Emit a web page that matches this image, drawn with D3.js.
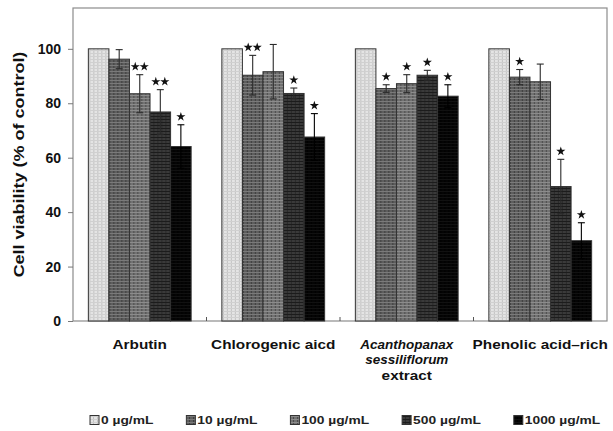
<!DOCTYPE html>
<html>
<head>
<meta charset="utf-8">
<script src="https://cdn.jsdelivr.net/npm/d3@7"></script>
<style>
  body { margin: 0; background: #fff; }
  svg { display: block; font-family: "Liberation Sans", Arial, sans-serif; }
</style>
</head>
<body>
<div id="chart"></div>
<script>
// chart values
var categories = ["Arbutin", "Chlorogenic aicd", "Acanthopanax sessiliflorum extract", "Phenolic acid\u2013rich"];
var categoryLines = [["Arbutin"], ["Chlorogenic aicd"], ["Acanthopanax", "sessiliflorum", "extract"], ["Phenolic acid\u2013rich"]];
var categoryItalic = [[false], [false], [true, true, false], [false]];
var doses = ["0 \u00b5g/mL", "10 \u00b5g/mL", "100 \u00b5g/mL", "500 \u00b5g/mL", "1000 \u00b5g/mL"];

var arbutin      = [100, 96.2, 83.5, 76.8, 64.1];
var chlorogenic  = [100, 90.3, 91.6, 83.6, 67.6];
var acanthopanax = [100, 85.4, 87.2, 90.3, 82.6];
var phenolic     = [100, 89.6, 87.9, 49.4, 29.5];

var arbutinSd      = [0, 3.5, 7.0, 8.2, 8.0];
var chlorogenicSd  = [0, 7.3, 10.0, 2.0, 8.6];
var acanthopanaxSd = [0, 1.4, 3.3, 1.8, 4.2];
var phenolicSd     = [0, 2.8, 6.5, 10.0, 6.6];

// number of asterisks over each bar
var arbutinStars      = [0, 0, 2, 2, 1];
var chlorogenicStars  = [0, 2, 0, 1, 1];
var acanthopanaxStars = [0, 1, 1, 1, 1];
var phenolicStars     = [0, 1, 0, 1, 1];

var yTicks = [0, 20, 40, 60, 80, 100];

var means = [arbutin, chlorogenic, acanthopanax, phenolic];
var sds = [arbutinSd, chlorogenicSd, acanthopanaxSd, phenolicSd];
var stars = [arbutinStars, chlorogenicStars, acanthopanaxStars, phenolicStars];

var W = 613, H = 431;
var plot = { left: 73, right: 607, top: 8, bottom: 321 };

var svg = d3.select("#chart").append("svg")
    .attr("width", W)
    .attr("height", H);

// hatch-like fills for the bars
var fills = [
    { base: "#e4e4e4", v: "#c2c2c2", h: "#d0d0d0" },
    { base: "#5e5e5e", v: "#3e3e3e", h: "#7a7a7a" },
    { base: "#727272", v: "#4c4c4c", h: "#8c8c8c" },
    { base: "#3a3a3a", v: "#2a2a2a", h: "#1c1c1c" },
    { base: "#050505", v: "#000000", h: "#111111" }
];
var defs = svg.append("defs");
fills.forEach(function (f, i) {
    var p = defs.append("pattern")
        .attr("id", "pat" + i)
        .attr("patternUnits", "userSpaceOnUse")
        .attr("width", 4).attr("height", 3);
    p.append("rect").attr("width", 4).attr("height", 3).attr("fill", f.base);
    p.append("rect").attr("x", 1).attr("width", 1).attr("height", 3).attr("fill", f.v);
    p.append("rect").attr("y", 2).attr("width", 4).attr("height", 1).attr("fill", f.h);
});

var x0 = d3.scaleBand()
    .domain(categories)
    .range([plot.left, plot.right])
    .paddingInner(0.23)
    .paddingOuter(0.115);

var x1 = d3.scaleBand()
    .domain(doses)
    .range([0, x0.bandwidth()]);

var y = d3.scaleLinear()
    .domain([0, 115])
    .range([plot.bottom, plot.top]);

// frame
svg.append("rect")
    .attr("x", plot.left).attr("y", plot.top)
    .attr("width", plot.right - plot.left)
    .attr("height", plot.bottom - plot.top)
    .attr("fill", "none")
    .attr("stroke", "#8c8c8c")
    .attr("stroke-width", 1.2);

// y axis
var yAxis = svg.append("g")
    .attr("transform", "translate(" + plot.left + ",0)")
    .call(d3.axisLeft(y).tickValues(yTicks).tickSize(5).tickPadding(7));
yAxis.select(".domain").remove();
yAxis.selectAll(".tick line").attr("stroke", "#777");
yAxis.selectAll(".tick text")
    .attr("fill", "#111")
    .style("font-size", "14px")
    .style("font-weight", "bold");

// small ticks between groups on the x axis
var bounds = categories.slice(1).map(function (c) { return x0(c) - x0.step() * x0.paddingInner() / 2; });
svg.selectAll(".xtick")
    .data(bounds)
    .enter().append("line")
    .attr("class", "xtick")
    .attr("x1", function (d) { return d; })
    .attr("x2", function (d) { return d; })
    .attr("y1", plot.bottom)
    .attr("y2", plot.bottom - 4)
    .attr("stroke", "#555");

// y title
svg.append("text")
    .attr("transform", "translate(19," + ((plot.top + plot.bottom) / 2) + ") rotate(-90) scale(1.2,1)")
    .attr("text-anchor", "middle")
    .attr("dy", "0.35em")
    .style("font-size", "15px")
    .style("font-weight", "bold")
    .attr("fill", "#111")
    .text("Cell viability (% of control)");

// bars
var groups = svg.selectAll(".group")
    .data(categories)
    .enter().append("g")
    .attr("class", "group")
    .attr("transform", function (d) { return "translate(" + x0(d) + ",0)"; });

groups.each(function (cat, ci) {
    var g = d3.select(this);
    var rows = doses.map(function (dose, di) {
        return { dose: dose, i: di, v: means[ci][di], sd: sds[ci][di], n: stars[ci][di] };
    });

    g.selectAll("rect")
        .data(rows)
        .enter().append("rect")
        .attr("x", function (d) { return x1(d.dose); })
        .attr("y", function (d) { return y(d.v); })
        .attr("width", x1.bandwidth())
        .attr("height", function (d) { return y(0) - y(d.v); })
        .attr("fill", function (d) { return "url(#pat" + d.i + ")"; })
        .attr("stroke", "#333")
        .attr("stroke-width", 1);

    var err = g.selectAll(".err")
        .data(rows.filter(function (d) { return d.sd > 0; }))
        .enter().append("g")
        .attr("class", "err")
        .attr("stroke", function (d) { return d.i === 4 ? "#000" : "#2a2a2a"; })
        .attr("stroke-width", 1.1);
    var cx = function (d) { return x1(d.dose) + x1.bandwidth() / 2; };
    err.append("line")
        .attr("x1", cx).attr("x2", cx)
        .attr("y1", function (d) { return y(d.v - d.sd); })
        .attr("y2", function (d) { return y(d.v + d.sd); });
    [1, -1].forEach(function (s) {
        err.append("line")
            .attr("x1", function (d) { return cx(d) - 3.5; })
            .attr("x2", function (d) { return cx(d) + 3.5; })
            .attr("y1", function (d) { return y(d.v + s * d.sd); })
            .attr("y2", function (d) { return y(d.v + s * d.sd); });
    });

    // asterisks
    var star = d3.symbol().type(d3.symbolStar).size(26);
    rows.forEach(function (d) {
        for (var k = 0; k < d.n; k++) {
            var off = (k - (d.n - 1) / 2) * 9;
            g.append("path")
                .attr("d", star)
                .attr("fill", "#111")
                .attr("transform", "translate(" + (cx(d) + off) + "," + (y(d.v + d.sd) - 8) + ")");
        }
    });
});

// category labels
categories.forEach(function (cat, ci) {
    var cxp = x0(cat) + x0.bandwidth() / 2;
    categoryLines[ci].forEach(function (line, li) {
        var it = categoryItalic[ci][li];
        svg.append("text")
            .attr("transform", "translate(" + cxp + "," + (348.5 + li * 15.5) + ") scale(" + (it ? 1.08 : 1.18) + ",1)")
            .attr("text-anchor", "middle")
            .style("font-size", it ? "12.5px" : "13px")
            .style("font-weight", "bold")
            .style("font-style", it ? "italic" : "normal")
            .attr("fill", "#111")
            .text(line);
    });
});

// legend
var legend = svg.append("g").attr("class", "legend");
var lx = 90;
doses.forEach(function (dose, i) {
    legend.append("rect")
        .attr("x", lx).attr("y", 415.5)
        .attr("width", 9).attr("height", 9)
        .attr("fill", "url(#pat" + i + ")")
        .attr("stroke", "#333");
    var t = legend.append("text")
        .attr("transform", "translate(" + (lx + 11) + ",424) scale(1.2,1)")
        .style("font-size", "11.5px")
        .style("font-weight", "bold")
        .attr("fill", "#222")
        .text(dose);
    lx = lx + 11 + t.node().getComputedTextLength() * 1.2 + 33;
});
</script>
</body>
</html>
